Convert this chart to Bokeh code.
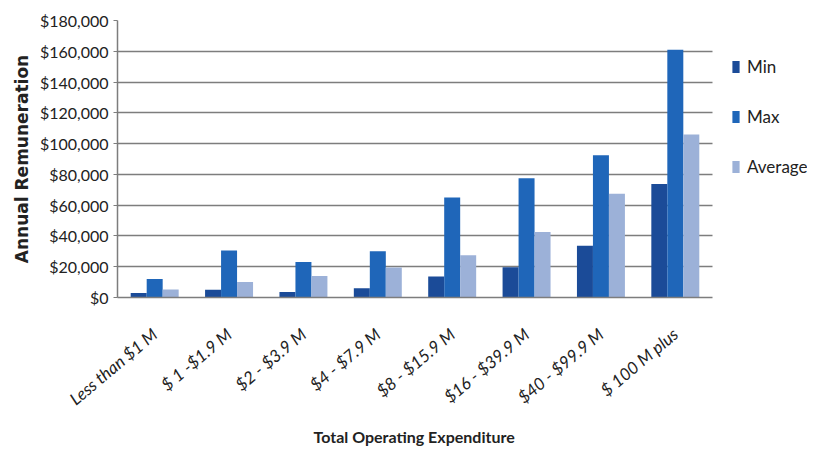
import math
from bokeh.plotting import figure
from bokeh.models import (ColumnDataSource, NumeralTickFormatter, Legend, LegendItem,
                          Range1d, FixedTicker, Title)
from bokeh.transform import dodge
from bokeh.embed import file_html
from bokeh.resources import INLINE

categories = ["Less than $1 M", "$ 1 -$1.9 M", "$2 - $3.9 M", "$4 - $7.9 M",
              "$8 - $15.9 M", "$16 - $39.9 M", "$40 - $99.9 M", "$ 100 M plus"]
min_vals = [3000, 5000, 3500, 6000, 13700, 19600, 33600, 73700]
max_vals = [12000, 30500, 23000, 30000, 65000, 77500, 92500, 161000]
avg_vals = [5200, 10000, 14000, 19500, 27500, 42500, 67500, 106000]
series_names = ["Min", "Max", "Average"]
y_ticks = list(range(0, 180001, 20000))

xs = list(range(len(categories)))
src = ColumnDataSource(dict(x=xs, mn=min_vals, mx=max_vals, av=avg_vals))

FONT = "Lato"
W, H = 807, 450
LEFT, RIGHT, TOP, BOTTOM = 117, 0, 20, 153
frame_w = W - LEFT - RIGHT
px_per_cat = 74.375
x_start = -0.5
x_end = x_start + frame_w / px_per_cat

p = figure(x_range=Range1d(x_start, x_end), y_range=Range1d(0, 180000), width=W, height=H,
           output_backend="svg", toolbar_location=None,
           min_border_left=LEFT, min_border_right=RIGHT, min_border_top=TOP,
           min_border_bottom=BOTTOM)
p.outline_line_color = None

colors = ["#1b4b98", "#1f66b9", "#9cb1d8"]
w = 0.215
r1 = p.vbar(x=dodge("x", -w), top="mn", width=w, source=src,
            fill_color=colors[0], line_color=None)
r2 = p.vbar(x=dodge("x", 0), top="mx", width=w, source=src,
            fill_color=colors[1], line_color=None)
r3 = p.vbar(x=dodge("x", w), top="av", width=w, source=src,
            fill_color=colors[2], line_color=None)

cat_bounds = (-0.5, len(categories) - 0.5)

p.xgrid.grid_line_color = None
p.ygrid.ticker = FixedTicker(ticks=y_ticks)
p.ygrid.grid_line_color = "#7d7d7d"
p.ygrid.grid_line_width = 1.5
p.ygrid.level = "underlay"
p.ygrid.cross_bounds = cat_bounds

p.yaxis.ticker = FixedTicker(ticks=y_ticks)
p.yaxis.formatter = NumeralTickFormatter(format="$0,0")
p.yaxis.major_label_text_font = FONT
p.yaxis.major_label_text_font_size = "16px"
p.yaxis.major_label_text_color = "#222222"
p.yaxis.axis_line_color = "#7d7d7d"
p.yaxis.axis_line_width = 1.5
p.yaxis.major_tick_line_color = "#7d7d7d"
p.yaxis.major_tick_out = 4
p.yaxis.major_tick_in = 0
p.yaxis.minor_tick_line_color = None
p.yaxis.major_label_standoff = 5
p.yaxis.axis_label = "Annual Remuneration"
p.yaxis.axis_label_text_font = "DejaVu Sans"
p.yaxis.axis_label_text_font_style = "bold"
p.yaxis.axis_label_text_font_size = "17px"
p.yaxis.axis_label_text_color = "#222222"
p.yaxis.axis_label_standoff = 5

p.xaxis.ticker = FixedTicker(ticks=xs)
p.xaxis.major_label_overrides = {i: c for i, c in zip(xs, categories)}
p.xaxis.bounds = cat_bounds
p.xaxis.axis_line_color = "#7d7d7d"
p.xaxis.axis_line_width = 1.5
p.xaxis.major_tick_line_color = None
p.xaxis.minor_tick_line_color = None
p.xaxis.major_label_orientation = math.radians(40)
p.xaxis.major_label_text_font = FONT
p.xaxis.major_label_text_font_style = "italic"
p.xaxis.major_label_text_font_size = "17px"
p.xaxis.major_label_text_color = "#222222"
p.xaxis.major_label_standoff = 28

xtitle = Title(text="Total Operating Expenditure", align="left", offset=196,
               text_font=FONT, text_font_style="bold", text_font_size="16px",
               text_color="#222222", standoff=8)
p.add_layout(xtitle, "below")

legend = Legend(items=[LegendItem(label=series_names[0], renderers=[r1]),
                       LegendItem(label=series_names[1], renderers=[r2]),
                       LegendItem(label=series_names[2], renderers=[r3])],
                location=(614, 120), orientation="vertical",
                glyph_width=9, glyph_height=15, label_height=16, spacing=29,
                padding=0, margin=0, label_standoff=7,
                label_text_font=FONT, label_text_font_size="17px",
                label_text_color="#222222",
                border_line_color=None, background_fill_alpha=0)
p.add_layout(legend, "center")

open("out.html", "w").write(file_html(p, INLINE))
